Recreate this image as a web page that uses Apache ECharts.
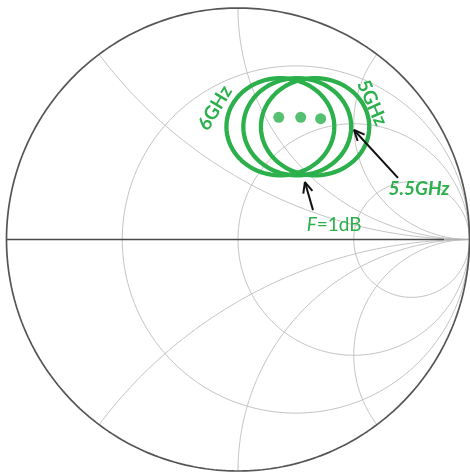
<!DOCTYPE html>
<html>
<head>
<meta charset="utf-8">
<style>
  html, body { margin: 0; padding: 0; background: #fff; }
  #chart { width: 470px; height: 473px; }
</style>
<script src="https://cdn.jsdelivr.net/npm/echarts@6/dist/echarts.min.js"></script>
</head>
<body>
<div id="chart"></div>
<script>
// Smith chart grid: constant-resistance circles and constant-reactance arcs
const resistances = [1 / 3, 1, 3];
const reactances = [0.5, 1, 2, -0.5, -1, -2];

// Noise-figure circles (F = 1 dB) at three frequencies, in reflection-coefficient plane
const noiseFreqs = ['6GHz', '5.5GHz', '5GHz'];
const noiseCentreRe = [0.183, 0.256, 0.333];
const noiseCentreIm = [0.487, 0.487, 0.487];
const noiseRadiusRe = [0.233, 0.233, 0.234];
const noiseRadiusIm = [0.210, 0.210, 0.210];

// "more circles" dots
const dotRe = [0.176, 0.271, 0.357];
const dotIm = [0.528, 0.528, 0.522];

// Annotation arrows: [tail, head]
const arrowTails = [[0.324, 0.127], [0.691, 0.266]];
const arrowHeads = [[0.289, 0.248], [0.501, 0.473]];

// Text annotations
const labelTexts = ['6GHz', '5GHz', '{i|5.5GHz}', '{f|F}{n|=1dB}'];
const labelPos = [[-0.099, 0.568], [0.579, 0.590], [0.782, 0.218], [0.415, 0.063]];
const labelRotate = [59, -66, 0, 0];

const GREEN = '#2bb04c';
const GRID = '#c4c4c4';

// Map normalised impedance z = r + jx to reflection coefficient
function gamma(r, x) {
  const d = (r + 1) * (r + 1) + x * x;
  return [(r * r + x * x - 1) / d, (2 * x) / d];
}

function circlePts(cx, cy, rx, ry, n) {
  const pts = [];
  for (let k = 0; k <= n; k++) {
    const t = (2 * Math.PI * k) / n;
    pts.push([cx + rx * Math.cos(t), cy + ry * Math.sin(t)]);
  }
  return pts;
}

function reactanceArc(x) {
  const pts = [];
  const n = 240;
  for (let k = 0; k < n; k++) {
    const r = Math.tan((Math.PI / 2) * (k / n));
    pts.push(gamma(r, x));
  }
  pts.push([1, 0]);
  return pts;
}

function lineSeries(data, color, width, z) {
  return {
    type: 'line', data: data, showSymbol: false, symbol: 'none',
    clip: false, silent: true, z: z || 2,
    lineStyle: { color: color, width: width },
    emphasis: { disabled: true }
  };
}

const series = [];
resistances.forEach(function (r) {
  series.push(lineSeries(circlePts(r / (1 + r), 0, 1 / (1 + r), 1 / (1 + r), 200), GRID, 1, 1));
});
reactances.forEach(function (x) {
  series.push(lineSeries(reactanceArc(x), GRID, 1, 1));
});
// real axis: dark part and faint tail toward the open-circuit point
series.push(lineSeries([[-1, 0], [0.89, 0]], '#4a4a4a', 1.6, 2));
series.push(lineSeries([[0.89, 0], [1, 0]], '#b0b0b0', 1.6, 2));
// outer |Γ| = 1 boundary
series.push(lineSeries(circlePts(0, 0, 1, 1, 360), '#555555', 1.7, 2));

// noise circles
noiseFreqs.forEach(function (f, i) {
  series.push(lineSeries(circlePts(noiseCentreRe[i], noiseCentreIm[i], noiseRadiusRe[i], noiseRadiusIm[i], 180), GREEN, 4.3, 5));
});

// dots
series.push({
  type: 'scatter', silent: true, z: 6,
  data: dotRe.map(function (v, i) { return [v, dotIm[i]]; }),
  symbolSize: 11, itemStyle: { color: GREEN }
});

// arrows with open V heads
arrowTails.forEach(function (tail, i) {
  const head = arrowHeads[i];
  const dx = tail[0] - head[0], dy = tail[1] - head[1];
  const len = Math.sqrt(dx * dx + dy * dy);
  const ux = dx / len, uy = dy / len;
  const s = 0.05, a = 0.42;
  const w1 = [head[0] + s * (ux * Math.cos(a) - uy * Math.sin(a)), head[1] + s * (ux * Math.sin(a) + uy * Math.cos(a))];
  const w2 = [head[0] + s * (ux * Math.cos(-a) - uy * Math.sin(-a)), head[1] + s * (ux * Math.sin(-a) + uy * Math.cos(-a))];
  series.push(lineSeries([tail, head], '#111', 2, 7));
  series.push(lineSeries([w1, head, w2], '#111', 2, 7));
});

const chart = echarts.init(document.getElementById('chart'), null, { renderer: 'canvas' });
chart.setOption({
  animation: false,
  backgroundColor: '#ffffff',
  grid: { left: 6.5, top: 8, width: 463, height: 463, containLabel: false },
  xAxis: { type: 'value', min: -1, max: 1, show: false },
  yAxis: { type: 'value', min: -1, max: 1, show: false },
  series: series
});

// place the text labels in chart coordinates
const graphics = labelTexts.map(function (t, i) {
  const p = chart.convertToPixel({ gridIndex: 0 }, labelPos[i]);
  return {
    type: 'text', x: p[0], y: p[1], z: 10,
    rotation: labelRotate[i] * Math.PI / 180,
    style: {
      text: t,
      fill: GREEN,
      font: 'bold 19px Lato, "Open Sans", sans-serif',
      align: 'center', verticalAlign: 'middle',
      rich: {
        i: { fontStyle: 'italic', fontWeight: 'bold', fontSize: 19, fontFamily: 'Lato', fill: GREEN },
        f: { fontStyle: 'italic', fontWeight: 'normal', fontSize: 19, fontFamily: 'Lato', fill: GREEN },
        n: { fontStyle: 'normal', fontWeight: 'normal', fontSize: 19, fontFamily: 'Lato', fill: GREEN }
      }
    }
  };
});
chart.setOption({ graphic: graphics });
</script>
</body>
</html>
